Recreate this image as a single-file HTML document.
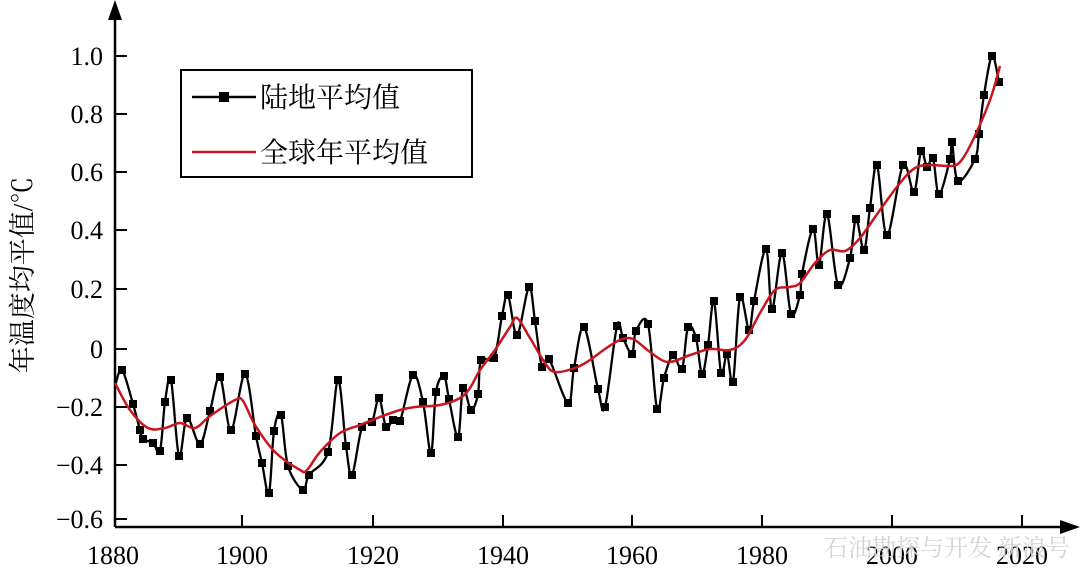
<!DOCTYPE html>
<html><head><meta charset="utf-8"><style>
html,body{margin:0;padding:0;background:#fff;}
svg{display:block;}
text{font-family:"Liberation Serif","Noto Serif CJK SC",serif;}
</style></head><body>
<svg id="s" width="1080" height="577" viewBox="0 0 1080 577" xmlns="http://www.w3.org/2000/svg">
<g stroke="#000" stroke-width="2.5" fill="none">
<line x1="115" y1="527" x2="115" y2="8"/>
<line x1="115" y1="527" x2="1072" y2="527"/>
</g>
<polygon points="115,0 108,20 122,20" fill="#000"/>
<polygon points="1080,527 1060,520 1060,534" fill="#000"/>
<g stroke="#000" stroke-width="2">
<line x1="115" y1="56" x2="127" y2="56"/><line x1="115" y1="114" x2="127" y2="114"/>
<line x1="115" y1="172" x2="127" y2="172"/><line x1="115" y1="230" x2="127" y2="230"/>
<line x1="115" y1="289" x2="127" y2="289"/><line x1="115" y1="349" x2="127" y2="349"/>
<line x1="115" y1="407" x2="127" y2="407"/><line x1="115" y1="465" x2="127" y2="465"/>
<line x1="115" y1="519" x2="127" y2="519"/>
<line x1="242" y1="527" x2="242" y2="515"/><line x1="373" y1="527" x2="373" y2="515"/>
<line x1="503" y1="527" x2="503" y2="515"/><line x1="632" y1="527" x2="632" y2="515"/>
<line x1="762" y1="527" x2="762" y2="515"/><line x1="892" y1="527" x2="892" y2="515"/>
<line x1="1022" y1="527" x2="1022" y2="515"/>
</g>
<g font-size="26" text-anchor="end" fill="#000">
<text x="103" y="65">1.0</text><text x="103" y="123">0.8</text><text x="103" y="181">0.6</text>
<text x="103" y="239">0.4</text><text x="103" y="298">0.2</text><text x="103" y="358">0</text>
<text x="103" y="416">−0.2</text><text x="103" y="474">−0.4</text><text x="103" y="528">−0.6</text>
</g>
<g font-size="26" text-anchor="middle" fill="#000">
<text x="113" y="564">1880</text><text x="242" y="564">1900</text><text x="373" y="564">1920</text>
<text x="503" y="564">1940</text><text x="632" y="564">1960</text><text x="762" y="564">1980</text>
<text x="892" y="564">2000</text><text x="1022" y="564">2020</text>
</g>
<text transform="translate(32,275) rotate(-90)" font-size="27" text-anchor="middle">年温度均平值/℃</text>
<text x="1070" y="556" font-size="24" text-anchor="end" fill="#d4d4d4" font-family="Liberation Sans,Noto Sans CJK SC,sans-serif">石油勘探与开发 新浪号</text>
<rect x="181" y="70" width="291" height="107" fill="#fff" stroke="#000" stroke-width="2"/>
<line x1="192" y1="97" x2="256" y2="97" stroke="#000" stroke-width="2.5"/>
<rect x="219" y="92" width="10" height="10" fill="#000"/>
<line x1="192" y1="152" x2="256" y2="152" stroke="#c8161e" stroke-width="2.5"/>
<g font-size="28" fill="#000"><text x="260" y="107">陆地平均值</text><text x="260" y="162">全球年平均值</text></g>
<path id="blk" fill="none" stroke="#000" stroke-width="2.3"/>
<g id="mk"></g>
<path id="red" fill="none" stroke="#c8161e" stroke-width="2.5"/>
</svg>
<script>
var B=[[115,386],[122,370],[133,404],[140,430],[143,439],[153,443],[160,451],[165,402],[171,380],[179,456],[187,418],[200,444],[210,411],[220,377],[231,430],[245,374],[256,436],[262,463],[269,493],[274,431],[281,415],[288,466],[303,490],[309,475],[328,452],[338,380],[346,446],[352,475],[362,427],[372,422],[379,398],[386,427],[393,420],[400,421],[413,375],[423,402],[431,453],[436,392],[444,376],[449,399],[458,437],[463,388],[471,410],[478,394],[481,360],[494,358],[502,316],[508,295],[517,335],[529,287],[535,321],[542,367],[549,359],[568,403],[574,368],[584,327],[598,389],[605,407],[617,326],[623,338],[632,354],[636,331],[648,324],[657,409],[664,378],[673,355],[682,369],[688,327],[696,338],[702,374],[708,345],[714,301],[721,373],[727,354],[733,382],[740,297],[749,330],[754,301],[766,249],[772,309],[782,253],[791,314],[800,295],[802,274],[813,229],[819,265],[827,214],[838,285],[850,258],[856,219],[864,250],[870,208],[877,165],[887,235],[903,165],[914,192],[921,151],[927,167],[933,158],[939,194],[950,159],[952,142],[958,181],[975,159],[979,134],[984,95],[992,56],[999,82]];
var R=[[115,383],[130,410],[148,428],[165,428],[180,423],[195,428],[210,416],[235,400],[243,401],[255,425],[275,452],[300,470],[307,470],[320,452],[340,433],[360,425],[380,417],[400,410],[415,407],[440,405],[460,398],[470,388],[480,370],[495,350],[510,327],[517,318],[530,338],[545,363],[555,372],[575,368],[590,360],[605,349],[620,340],[633,339],[650,352],[668,362],[690,355],[710,349],[730,350],[745,340],[760,313],[775,290],[790,287],[800,283],[815,263],[830,250],[845,251],[860,238],[880,210],[900,183],[915,168],[930,165],[950,166],[960,162],[972,142],[990,100],[1000,66]];
function cr(p){var d="M"+p[0][0]+","+p[0][1];for(var i=0;i<p.length-1;i++){var a=p[Math.max(0,i-1)],b=p[i],c=p[i+1],e=p[Math.min(p.length-1,i+2)];
d+=" C"+(b[0]+(c[0]-a[0])/6)+","+(b[1]+(c[1]-a[1])/6)+" "+(c[0]-(e[0]-b[0])/6)+","+(c[1]-(e[1]-b[1])/6)+" "+c[0]+","+c[1];}return d;}
document.getElementById("blk").setAttribute("d",cr(B));
document.getElementById("red").setAttribute("d",cr(R));
var g=document.getElementById("mk"),h="";
for(var i=1;i<B.length;i++){h+='<rect x="'+(B[i][0]-4)+'" y="'+(B[i][1]-4)+'" width="8" height="8" fill="#000"/>';}
g.innerHTML=h;
</script>
</body></html>
